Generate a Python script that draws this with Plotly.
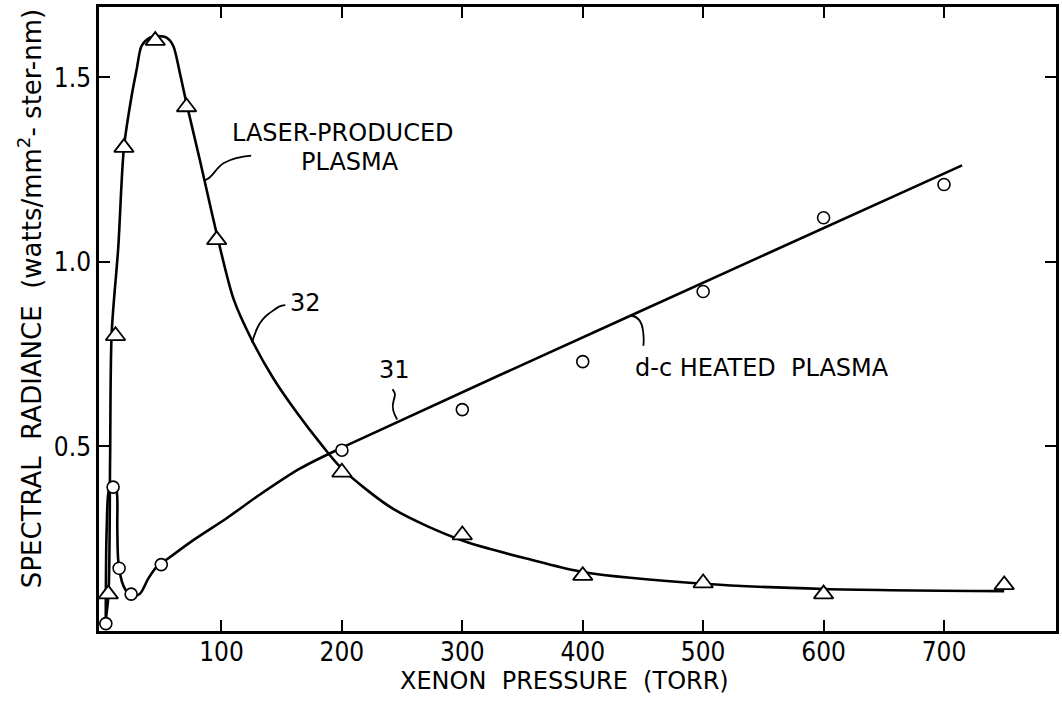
import plotly.graph_objects as go

# ---- measured points (xenon pressure in torr, spectral radiance) ----
laser_x = [6, 12, 19, 45, 71, 96, 200, 300, 400, 500, 600, 750]
laser_y = [0.10, 0.80, 1.31, 1.60, 1.42, 1.06, 0.43, 0.26, 0.15, 0.13, 0.10, 0.125]

dc_x = [4, 10, 15, 25, 50, 200, 300, 400, 500, 600, 700]
dc_y = [0.02, 0.39, 0.17, 0.10, 0.18, 0.49, 0.60, 0.73, 0.92, 1.12, 1.21]

# ---- hand-drawn fitted curves ----
laser_curve_x = [2.8, 6.1, 7.5, 8.8, 14.3, 19, 25.4, 29.5, 33.7, 40.6, 47, 54.4,
                 59.9, 65.4, 70.9, 82, 96.3, 110, 125, 143, 163, 183, 200, 243,
                 300, 361, 400, 500, 600, 750]
laser_curve_y = [0.005, 0.096, 0.46, 0.805, 1.04, 1.31, 1.45, 1.52, 1.586, 1.608,
                 1.612, 1.608, 1.586, 1.513, 1.431, 1.277, 1.073, 0.90, 0.79,
                 0.685, 0.59, 0.505, 0.44, 0.33, 0.245, 0.19, 0.16, 0.128, 0.114,
                 0.108]

dc_curve_x = [3.9, 4.7, 6.9, 10.2, 13, 13.5, 14.4, 18.5, 24.8, 32.3, 39.2, 46,
              50.2, 76, 104, 132, 165, 200, 440, 715]
dc_curve_y = [0.019, 0.278, 0.387, 0.396, 0.378, 0.278, 0.187, 0.123, 0.096,
              0.101, 0.142, 0.173, 0.183, 0.245, 0.305, 0.37, 0.44, 0.497,
              0.855, 1.262]

x_ticks = [100, 200, 300, 400, 500, 600, 700]
x_tick_labels = ["100", "200", "300", "400", "500", "600", "700"]
y_ticks = [0.5, 1.0, 1.5]
y_tick_labels = ["0.5", "1.0", "1.5"]

TXT = "DejaVu Sans, Noto Sans, sans-serif"
NUM = "Liberation Sans Narrow, DejaVu Sans Condensed, Liberation Sans, sans-serif"
INK = "black"

fig = go.Figure()

fig.add_trace(go.Scatter(x=laser_curve_x, y=laser_curve_y, mode="lines",
                         line=dict(color=INK, width=2.6, shape="spline", smoothing=0.8),
                         hoverinfo="skip", showlegend=False))
fig.add_trace(go.Scatter(x=dc_curve_x, y=dc_curve_y, mode="lines",
                         line=dict(color=INK, width=2.6, shape="spline", smoothing=0.8),
                         hoverinfo="skip", showlegend=False))
fig.add_trace(go.Scatter(x=laser_x, y=laser_y, mode="markers", showlegend=False,
                         marker=dict(symbol="triangle-up", size=17, color="white",
                                     line=dict(color=INK, width=1.8))))
fig.add_trace(go.Scatter(x=dc_x, y=dc_y, mode="markers", showlegend=False,
                         marker=dict(symbol="circle", size=12, color="white",
                                     line=dict(color=INK, width=1.6))))

leaders = [
    "M 86.1,1.222 C 92,1.224 95,1.255 102,1.268 S 116,1.286 124.7,1.288",
    "M 125.3,0.782 C 128,0.81 131,0.84 139,0.859 S 148,0.882 153,0.883",
    "M 245.9,0.573 C 243,0.59 241,0.605 243,0.625 S 244,0.645 242,0.655",
    "M 440.2,0.855 C 446,0.852 449,0.84 450,0.815 S 451,0.785 450.3,0.773",
]
shapes = [dict(type="path", xref="x", yref="y", path=p,
               line=dict(color=INK, width=1.8)) for p in leaders]

ann_font = dict(family=TXT, size=24, color=INK)
annotations = [
    dict(x=106.8, y=1.349, text="LASER-PRODUCED", xanchor="left", yanchor="middle"),
    dict(x=164.7, y=1.272, text="PLASMA", xanchor="left", yanchor="middle"),
    dict(x=155, y=0.888, text="32", xanchor="left", yanchor="middle"),
    dict(x=229, y=0.708, text="31", xanchor="left", yanchor="middle"),
    dict(x=442, y=0.714, text="d-c HEATED  PLASMA", xanchor="left", yanchor="middle"),
]
for a in annotations:
    a.update(xref="x", yref="y", showarrow=False, font=ann_font)

annotations.append(dict(xref="paper", yref="paper", x=0.486, y=-0.080,
                        xanchor="center", yanchor="middle", showarrow=False,
                        text="XENON  PRESSURE  (TORR)", font=dict(family=TXT, size=24, color=INK)))
annotations.append(dict(xref="paper", yref="paper", x=-0.072, y=0.532,
                        xanchor="center", yanchor="middle", showarrow=False, textangle=-90,
                        text="SPECTRAL  RADIANCE  (watts/mm<sup>2</sup>- ster-nm)",
                        font=dict(family=TXT, size=26, color=INK)))

fig.update_layout(
    width=1062, height=703,
    margin=dict(l=99, r=3, t=7, b=72),
    paper_bgcolor="white", plot_bgcolor="white",
    shapes=shapes, annotations=annotations,
    xaxis=dict(range=[-1.7, 793], tickvals=x_ticks, ticktext=x_tick_labels,
               ticks="inside", ticklen=11, tickwidth=1.8, tickcolor=INK,
               showline=True, linecolor=INK, linewidth=2.5, mirror="ticks",
               showgrid=False, zeroline=False, ticklabelstandoff=-4,
               tickfont=dict(family=NUM, size=26, color=INK)),
    yaxis=dict(range=[0.0, 1.691], tickvals=y_ticks, ticktext=y_tick_labels,
               ticks="inside", ticklen=11, tickwidth=1.8, tickcolor=INK,
               showline=True, linecolor=INK, linewidth=2.5, mirror="ticks",
               showgrid=False, zeroline=False, ticklabelstandoff=0,
               tickfont=dict(family=NUM, size=26, color=INK)),
)

fig.write_html("out.html")
